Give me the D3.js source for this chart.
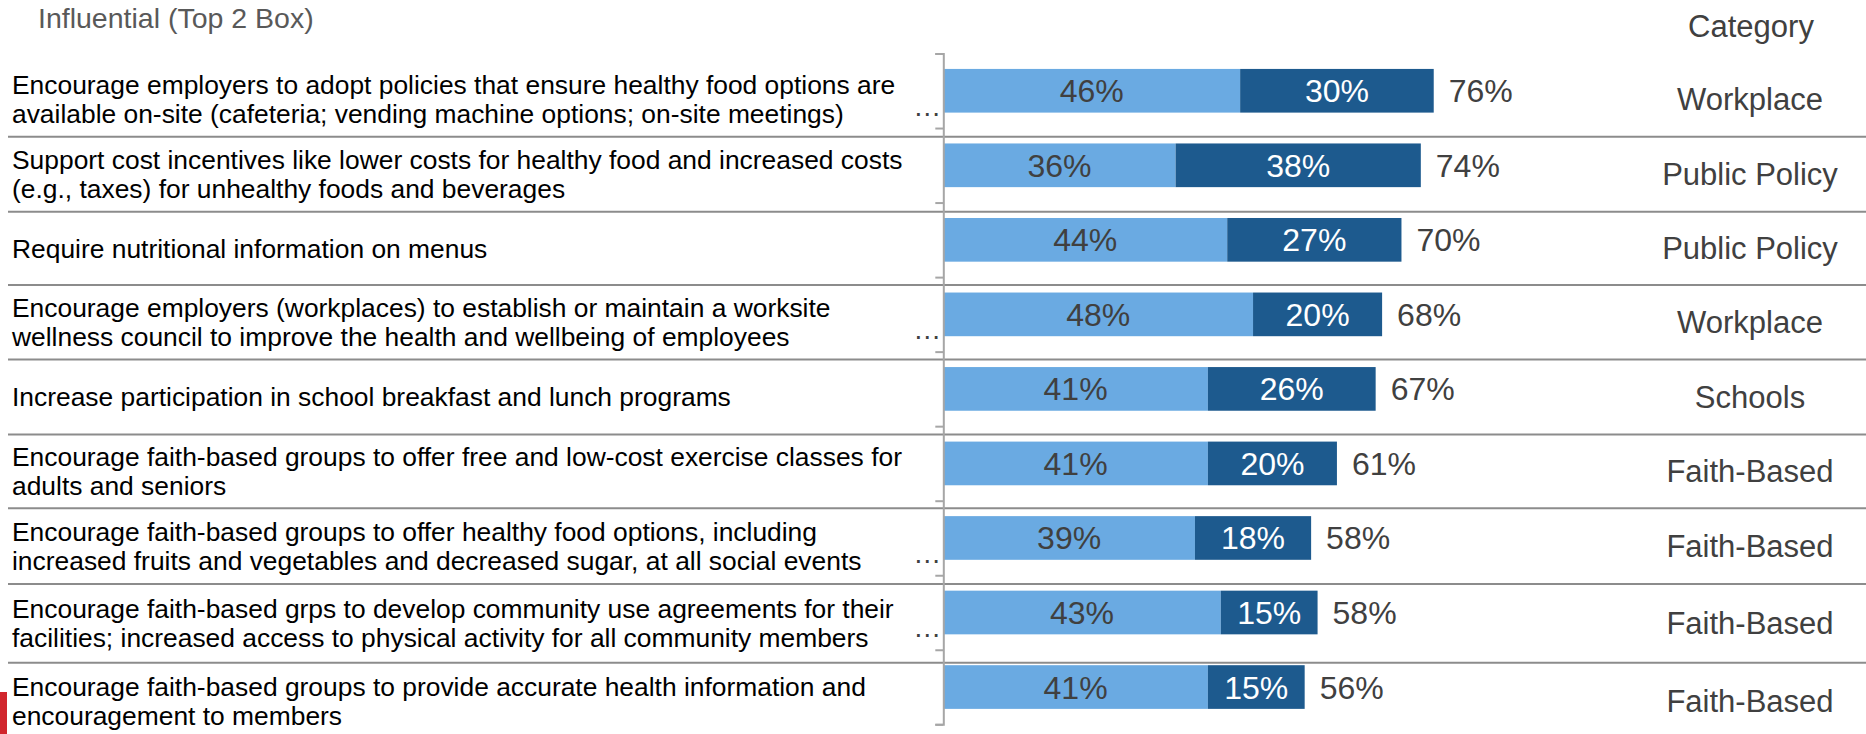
<!DOCTYPE html>
<html>
<head>
<meta charset="utf-8">
<script src="https://cdn.jsdelivr.net/npm/d3@7/dist/d3.min.js"></script>
<style>
  html, body { margin: 0; padding: 0; background: #ffffff; }
  svg { display: block; font-family: Arial, "Liberation Sans", Helvetica, sans-serif; }
</style>
</head>
<body>
<svg id="chart" width="1866" height="734"></svg>
<script>
// Statements, one per row (line breaks as shown)
const statements = [
  "Encourage employers to adopt policies that ensure healthy food options are\navailable on-site (cafeteria; vending machine options; on-site meetings)",
  "Support cost incentives like lower costs for healthy food and increased costs\n(e.g., taxes) for unhealthy foods and beverages",
  "Require nutritional information on menus",
  "Encourage employers (workplaces) to establish or maintain a worksite\nwellness council to improve the health and wellbeing of employees",
  "Increase participation in school breakfast and lunch programs",
  "Encourage faith-based groups to offer free and low-cost exercise classes for\nadults and seniors",
  "Encourage faith-based groups to offer healthy food options, including\nincreased fruits and vegetables and decreased sugar, at all social events",
  "Encourage faith-based grps to develop community use agreements for their\nfacilities; increased access to physical activity for all community members",
  "Encourage faith-based groups to provide accurate health information and\nencouragement to members"
];

// Somewhat influential (light) and very influential (dark), in percent
const somewhat = [46, 36, 44, 48, 41, 41, 39, 43, 41];
const very     = [30, 38, 27, 20, 26, 20, 18, 15, 15];
// Top 2 Box totals
const totals   = [76, 74, 70, 68, 67, 61, 58, 58, 56];

const categories = ["Workplace", "Public Policy", "Public Policy", "Workplace", "Schools",
                    "Faith-Based", "Faith-Based", "Faith-Based", "Faith-Based"];

// Rows whose axis label is cut down to an ellipsis
const elidedAxisLabel = [true, false, false, true, false, false, true, true, false];

const titleText = "Influential (Top 2 Box)";
const categoryHeader = "Category";

// ---- layout ----
const svg = d3.select("#chart");
const W = 1866, H = 734;
const axisX = 943.3;
const plotTop = 53.5, plotBottom = 724.3;
const pxPerPercent = 6.453;

// table rules between rows
const ruleYs = [136.7, 211.7, 285.0, 359.5, 434.5, 508.3, 584.0, 662.7];
const tableTop = 61.7, tableBottom = 740;
const rowEdges = [tableTop, ...ruleYs, tableBottom];

const colors = { light: "#6aaae2", dark: "#1d5a8e", text: "#404040", rule: "#8c8c8c", axis: "#a6a6a6" };

const idx = d3.range(statements.length);

const x = d3.scaleLinear().domain([0, 100]).range([axisX, axisX + 100 * pxPerPercent]);
const y = d3.scaleBand().domain(idx).range([plotTop, plotBottom])
  .paddingInner(0.414).paddingOuter(0.207);

// band edges, for the axis ticks
const edge = d3.scaleLinear().domain([0, statements.length]).range([plotTop, plotBottom]);

// table rules
svg.append("g").selectAll("line").data(ruleYs).join("line")
  .attr("x1", 8).attr("x2", W)
  .attr("y1", d => d).attr("y2", d => d)
  .attr("stroke", colors.rule).attr("stroke-width", 2);

// title and column header
svg.append("text").attr("x", 38).attr("y", 28)
  .attr("font-size", 28.5).attr("fill", "#595959").text(titleText);
svg.append("text").attr("x", 1751).attr("y", 37).attr("text-anchor", "middle")
  .attr("font-size", 31).attr("fill", colors.text).text(categoryHeader);

const rowCenter = i => (rowEdges[i] + rowEdges[i + 1]) / 2;

// statement labels
const labelFs = 26.4, labelLh = 28.5;
const labels = svg.append("g").selectAll("text").data(idx).join("text")
  .attr("font-size", labelFs).attr("fill", "#000000");
labels.each(function (i) {
  const lines = statements[i].split("\n");
  const first = rowCenter(i) - (lines.length - 1) / 2 * labelLh + 0.35 * labelFs;
  d3.select(this).selectAll("tspan").data(lines).join("tspan")
    .attr("x", 12).attr("y", (d, k) => first + k * labelLh).text(d => d);
});

// category column
svg.append("g").selectAll("text").data(idx).join("text")
  .attr("x", 1750).attr("y", i => rowCenter(i) + 11)
  .attr("text-anchor", "middle").attr("font-size", 31).attr("fill", colors.text)
  .text(i => categories[i]);

// bars
const bars = svg.append("g");
bars.selectAll("rect.light").data(idx).join("rect").attr("class", "light")
  .attr("x", x(0)).attr("y", i => y(i))
  .attr("width", i => x(somewhat[i]) - x(0)).attr("height", y.bandwidth())
  .attr("fill", colors.light);
bars.selectAll("rect.dark").data(idx).join("rect").attr("class", "dark")
  .attr("x", i => x(somewhat[i])).attr("y", i => y(i))
  .attr("width", i => x(somewhat[i] + very[i]) - x(somewhat[i])).attr("height", y.bandwidth())
  .attr("fill", colors.dark);

// value labels
const valFs = 32;
const mid = i => y(i) + y.bandwidth() / 2 + 0.36 * valFs;
const vals = svg.append("g").attr("font-size", valFs);
vals.selectAll("text.l").data(idx).join("text").attr("class", "l")
  .attr("x", i => (x(0) + x(somewhat[i])) / 2).attr("y", mid)
  .attr("text-anchor", "middle").attr("fill", colors.text)
  .text(i => somewhat[i] + "%");
vals.selectAll("text.d").data(idx).join("text").attr("class", "d")
  .attr("x", i => (x(somewhat[i]) + x(somewhat[i] + very[i])) / 2).attr("y", mid)
  .attr("text-anchor", "middle").attr("fill", "#ffffff")
  .text(i => very[i] + "%");
vals.selectAll("text.t").data(idx).join("text").attr("class", "t")
  .attr("x", i => x(somewhat[i] + very[i]) + 15).attr("y", mid)
  .attr("fill", colors.text)
  .text(i => totals[i] + "%");

// category axis
const axisG = svg.append("g").attr("transform", `translate(${axisX},0)`)
  .call(d3.axisLeft(edge).tickValues(d3.range(statements.length + 1))
    .tickSize(8).tickSizeOuter(8).tickFormat(""));
axisG.select(".domain").attr("stroke", colors.axis).attr("stroke-width", 2);
axisG.selectAll(".tick line").attr("stroke", colors.axis).attr("stroke-width", 2);

// elided axis labels
svg.append("g").selectAll("text").data(idx.filter(i => elidedAxisLabel[i])).join("text")
  .attr("x", axisX - 1).attr("y", i => y(i) + y.bandwidth() + 3)
  .attr("text-anchor", "end").attr("font-size", 28).attr("letter-spacing", 1)
  .attr("fill", colors.text)
  .text("…");

// corner accent
svg.append("rect").attr("x", 0).attr("y", 692).attr("width", 7).attr("height", 42)
  .attr("fill", "#d1262d");
</script>
</body>
</html>
